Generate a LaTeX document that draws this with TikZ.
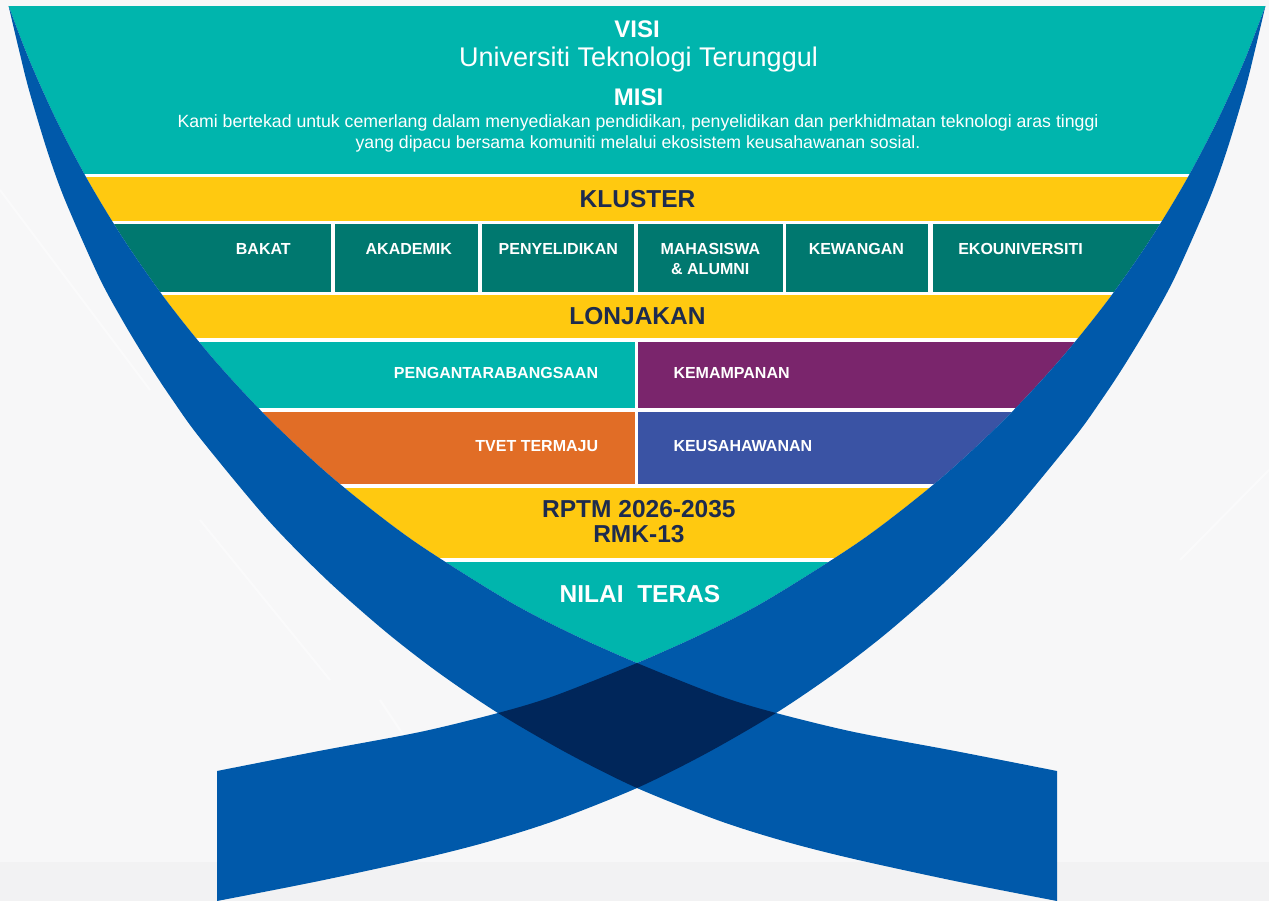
\documentclass[tikz,border=0pt]{standalone}
\usepackage{fontspec}
\setmainfont{Liberation Sans}
\definecolor{bg}{HTML}{F7F7F8}
\definecolor{bgdark}{HTML}{F2F2F3}
\definecolor{tealc}{HTML}{00B5AD}
\definecolor{yel}{HTML}{FFC910}
\definecolor{dteal}{HTML}{00786F}
\definecolor{purp}{HTML}{7A256C}
\definecolor{orng}{HTML}{E16D26}
\definecolor{bblue}{HTML}{3A53A4}
\definecolor{rib}{HTML}{0059AA}
\definecolor{ribdark}{HTML}{00265A}
\definecolor{navytxt}{HTML}{1D2B4E}
% ribbon from top-left to bottom-right (pixel coordinates, y downwards)
\newcommand{\ribA}{plot[smooth,tension=0.5] coordinates {(8.6,6) (29.3,60) (56.3,120) (87.7,180) (124.1,240) (166,300) (214.3,360) (270.1,420) (335.1,480) (412.3,540) (506.8,600) (570,633) (637,663) (720,696) (776,713) (854,732) (955,751) (1057,771)} -- (1057,901) -- plot[smooth,tension=0.5] coordinates {(1057,901) (955,881) (854,859) (787,842) (720,821) (637,788) (567,753) (498,713) (439,673) (386,632) (327,580) (268,520) (200,438) (172.6,400) (150.7,367) (124,323) (99,277) (65,200) (47,150) (29,90) (19,50) (8.6,6)} -- cycle}
% region above the upper edge of that ribbon
\newcommand{\aboveA}{plot[smooth,tension=0.5] coordinates {(8.6,6) (29.3,60) (56.3,120) (87.7,180) (124.1,240) (166,300) (214.3,360) (270.1,420) (335.1,480) (412.3,540) (506.8,600) (570,633) (637,663) (720,696) (776,713) (854,732) (955,751) (1057,771)} -- (1400,771) -- (1400,-100) -- (-100,-100) -- (-100,6) -- cycle}
\tikzset{
  mirror/.style={xshift=1274pt,xscale=-1},
  bgline/.style={white, line width=2pt, opacity=0.45},
  ttl/.style={font=\fontsize{24.5}{28}\selectfont\bfseries, text=navytxt, inner sep=0pt, anchor=base},
  wttl/.style={ttl, text=white, font=\fontsize{24}{28}\selectfont\bfseries},
  lbl/.style={font=\fontsize{16}{20}\selectfont\bfseries, text=white, inner sep=0pt, anchor=base},
  misi/.style={font=\fontsize{17.7}{21}\selectfont, text=white, inner sep=0pt, anchor=base},
}
\begin{document}
\begin{tikzpicture}[x=1pt,y=-1pt]
\useasboundingbox (0,0) rectangle (1269,901);
\fill[bg] (0,0) rectangle (1269,901);
\fill[bgdark] (0,862) rectangle (1269,901);
\draw[bgline] (0,190) -- (150,390);
\draw[bgline] (200,520) -- (330,680);
\draw[bgline] (380,700) -- (420,760);
\draw[bgline] (1180,560) -- (1269,470);

% coloured layers, clipped to the funnel between the ribbons
\begin{scope}
  \clip \aboveA;
  \begin{scope}[mirror]
    \clip \aboveA;
    \begin{scope}[mirror]
      \fill[white] (-20,6) rectangle (1300,700);
      \fill[tealc] (-20,6) rectangle (1300,174);
      \fill[yel] (-20,176.7) rectangle (1300,220.7);
      \fill[dteal] (-20,224) rectangle (331,291.7);
      \fill[dteal] (335,224) rectangle (478.3,291.7);
      \fill[dteal] (482.3,224) rectangle (634.3,291.7);
      \fill[dteal] (638,224) rectangle (782.5,291.7);
      \fill[dteal] (786,224) rectangle (928,291.7);
      \fill[dteal] (932.5,224) rectangle (1300,291.7);
      \fill[yel] (-20,295) rectangle (1300,338.3);
      \fill[tealc] (-20,341.7) rectangle (635,408.3);
      \fill[purp] (638.3,341.7) rectangle (1300,408.3);
      \fill[orng] (-20,412.3) rectangle (635,484);
      \fill[bblue] (638.3,412.3) rectangle (1300,484);
      \fill[yel] (-20,488.3) rectangle (1300,558.3);
      \fill[tealc] (-20,561.7) rectangle (1300,700);
    \end{scope}
  \end{scope}
\end{scope}

% the two crossing ribbons
\fill[rib] \ribA;
\begin{scope}[mirror]
  \fill[rib] \ribA;
\end{scope}
% their overlap
\begin{scope}
  \clip \ribA;
  \begin{scope}[mirror]
    \fill[ribdark] \ribA;
  \end{scope}
\end{scope}

% texts
\node[wttl] (visi) at (637,38) {VISI};
\node[misi, font=\fontsize{27}{30}\selectfont] (visit) at (638.5,67) {Universiti Teknologi Terunggul};
\node[wttl] (misit) at (638.5,106) {MISI};
\node[misi] (m1) at (638,128) {Kami bertekad untuk cemerlang dalam menyediakan pendidikan, penyelidikan dan perkhidmatan teknologi aras tinggi};
\node[misi] (m2) at (638,149) {yang dipacu bersama komuniti melalui ekosistem keusahawanan sosial.};
\node[ttl] (kluster) at (637.5,208) {KLUSTER};
\node[lbl] (bakat) at (263.3,255) {BAKAT};
\node[lbl] (akad) at (408.8,255) {AKADEMIK};
\node[lbl] (peny) at (558.3,255) {PENYELIDIKAN};
\node[lbl] (maha) at (710.3,255) {MAHASISWA};
\node[lbl] (alum) at (710.3,275) {\& ALUMNI};
\node[lbl] (kew) at (856.3,255) {KEWANGAN};
\node[lbl] (eko) at (1020.5,255) {EKOUNIVERSITI};
\node[ttl] (lonj) at (637.5,324) {LONJAKAN};
\node[lbl, anchor=base east] (peng) at (598.3,378) {PENGANTARABANGSAAN};
\node[lbl, anchor=base west] (kemam) at (673.3,378) {KEMAMPANAN};
\node[lbl, anchor=base east] (tvet) at (598.3,451.7) {TVET TERMAJU};
\node[lbl, anchor=base west] (keus) at (673.3,451.7) {KEUSAHAWANAN};
\node[ttl] (rptm) at (638.9,517.3) {RPTM 2026-2035};
\node[ttl] (rmk) at (638.9,542.7) {RMK-13};
\node[wttl, font=\fontsize{24.5}{28}\selectfont\bfseries] (nilai) at (640,602.7) {NILAI\ \ TERAS};
\end{tikzpicture}
\end{document}
